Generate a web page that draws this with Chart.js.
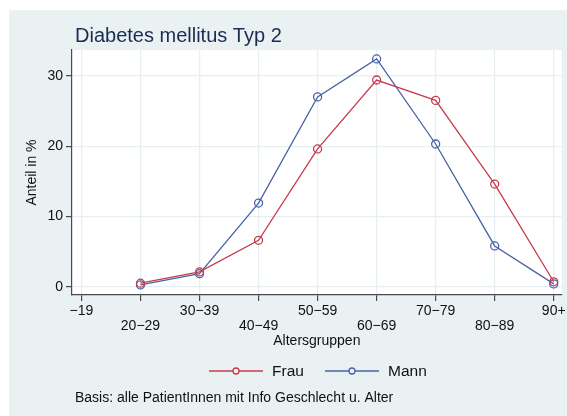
<!DOCTYPE html>
<html>
<head>
<meta charset="utf-8">
<script src="https://cdn.jsdelivr.net/npm/chart.js@4.4.1/dist/chart.umd.min.js"></script>
<style>
  html, body { margin: 0; padding: 0; background: #fff; }
  #wrap { width: 567px; height: 416px; }
</style>
</head>
<body>
<div id="wrap"><canvas id="chart" width="567" height="416"></canvas></div>
<script>
const ageGroups = ["\u221219", "20\u221229", "30\u221239", "40\u221249", "50\u221259", "60\u221269", "70\u221279", "80\u221289", "90+"];
const frau = [null, 0.5, 2.1, 6.6, 19.6, 29.4, 26.5, 14.6, 0.7];
const mann = [null, 0.25, 1.85, 11.9, 27.0, 32.4, 20.3, 5.8, 0.4];
const yTicks = [0, 10, 20, 30];

const titleText = "Diabetes mellitus Typ 2";
const noteText = "Basis: alle PatientInnen mit Info Geschlecht u. Alter";

const FONT = "'Liberation Sans', Arial, Helvetica, sans-serif";
const RED = "#c63c4c";
const BLUE = "#4a63a6";
const BG = "#e9f1f3";
const GRID = "#e6eff1";
const AXIS = "#4a4a4a";

const toPoints = (arr) => arr.map((v, i) => ({ x: i, y: v }));

// background, title, legend and note
const frame = {
  id: "frame",
  beforeDraw(chart) {
    const { ctx, chartArea: a } = chart;
    ctx.save();
    ctx.fillStyle = "#fff";
    ctx.fillRect(0, 0, chart.width, chart.height);
    ctx.fillStyle = BG;
    ctx.fillRect(9, 10, chart.width - 9, chart.height - 10);
    ctx.fillStyle = "#fff";
    ctx.fillRect(a.left, a.top, a.right - a.left, a.bottom - a.top);
    ctx.restore();
  },
  afterDraw(chart) {
    const { ctx } = chart;
    ctx.save();
    ctx.textBaseline = "alphabetic";
    ctx.fillStyle = "#1c2c50";
    ctx.font = "20px " + FONT;
    ctx.fillText(titleText, 75, 42);

    const items = [
      { label: "Frau", color: RED, x0: 209, x1: 263 },
      { label: "Mann", color: BLUE, x0: 325, x1: 379 },
    ];
    const ly = 371;
    items.forEach((it) => {
      ctx.strokeStyle = it.color;
      ctx.lineWidth = 1.3;
      ctx.beginPath();
      ctx.moveTo(it.x0, ly);
      ctx.lineTo(it.x1, ly);
      ctx.stroke();
      ctx.beginPath();
      ctx.arc((it.x0 + it.x1) / 2, ly, 3, 0, Math.PI * 2);
      ctx.fillStyle = BG;
      ctx.fill();
      ctx.stroke();
      ctx.fillStyle = "#111";
      ctx.font = "15.5px " + FONT;
      ctx.textBaseline = "middle";
      ctx.fillText(it.label, it.x1 + 9, ly + 1);
    });

    ctx.font = "14px " + FONT;
    ctx.fillStyle = "#111";
    ctx.textBaseline = "middle";
    ctx.fillText(noteText, 75, 398);
    ctx.restore();
  },
};

new Chart(document.getElementById("chart"), {
  type: "line",
  data: {
    datasets: [
      {
        label: "Frau",
        data: toPoints(frau),
        borderColor: RED,
        backgroundColor: "rgba(0,0,0,0)",
        borderWidth: 1.3,
        pointRadius: 4,
        pointBorderWidth: 1.3,
        pointBorderColor: RED,
        pointBackgroundColor: "rgba(0,0,0,0)",
        tension: 0,
      },
      {
        label: "Mann",
        data: toPoints(mann),
        borderColor: BLUE,
        backgroundColor: "rgba(0,0,0,0)",
        borderWidth: 1.3,
        pointRadius: 4,
        pointBorderWidth: 1.3,
        pointBorderColor: BLUE,
        pointBackgroundColor: "rgba(0,0,0,0)",
        tension: 0,
      },
    ],
  },
  options: {
    responsive: false,
    animation: false,
    devicePixelRatio: 1,
    layout: { padding: { left: 9, right: 4, top: 50, bottom: 66 } },
    plugins: {
      legend: { display: false },
      title: { display: false },
      tooltip: { enabled: false },
    },
    scales: {
      x: {
        type: "linear",
        min: -0.16,
        max: 8.135,
        afterBuildTicks: (s) => {
          s.ticks = ageGroups.map((_, i) => ({ value: i }));
        },
        afterFit: (s) => {
          s.height = 55;
          s.paddingLeft = 0;
          s.paddingRight = 0;
        },
        grid: { color: GRID, lineWidth: 1.2, tickColor: AXIS, tickLength: 6 },
        border: { color: AXIS, width: 1.2 },
        ticks: {
          autoSkip: false,
          maxRotation: 0,
          padding: 2.5,
          color: "#111",
          font: { family: FONT, size: 14, lineHeight: "14.8px" },
          callback: (v) => (v % 2 ? ["", ageGroups[v]] : ageGroups[v]),
        },
        title: {
          display: true,
          text: "Altersgruppen",
          color: "#111",
          font: { family: FONT, size: 14, lineHeight: 1.2 },
          padding: 0,
        },
      },
      y: {
        min: -1.18,
        max: 33.67,
        afterBuildTicks: (s) => {
          s.ticks = yTicks.map((v) => ({ value: v }));
        },
        afterFit: (s) => {
          s.width = 63;
          s.paddingTop = 0;
          s.paddingBottom = 0;
        },
        grid: { color: GRID, lineWidth: 1.2, tickColor: AXIS, tickLength: 6 },
        border: { color: AXIS, width: 1.2 },
        ticks: {
          padding: 3,
          color: "#111",
          font: { family: FONT, size: 14 },
        },
        title: {
          display: true,
          text: "Anteil in %",
          color: "#111",
          font: { family: FONT, size: 14, lineHeight: 1.2 },
          padding: { top: 15 },
        },
      },
    },
  },
  plugins: [frame],
});
</script>
</body>
</html>
